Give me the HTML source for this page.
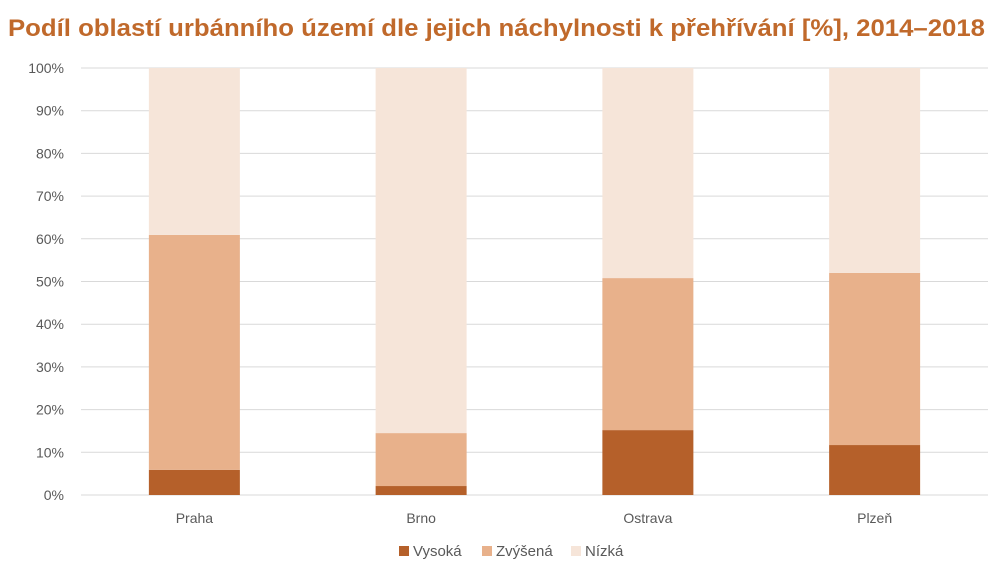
<!DOCTYPE html>
<html><head><meta charset="utf-8"><style>
body{margin:0;background:#fff;}
svg{display:block;font-family:"Liberation Sans",sans-serif;}
</style></head><body>
<svg id="chart" width="1002" height="584">
<text x="8" y="36" font-size="24" font-weight="bold" fill="#c0692b" textLength="977" lengthAdjust="spacingAndGlyphs">Podíl oblastí urbánního území dle jejich náchylnosti k přehřívání [%], 2014–2018</text>
<g id="grid"></g><g id="bars"></g><g id="xlabels"></g>
<g>
<rect x="399" y="546" width="10" height="10" fill="#b5602a"/>
<text x="413" y="556" font-size="15" fill="#595959">Vysoká</text>
<rect x="482" y="546" width="10" height="10" fill="#e8b18b"/>
<text x="496" y="556" font-size="15" fill="#595959">Zvýšená</text>
<rect x="571" y="546" width="10" height="10" fill="#f6e5d9"/>
<text x="585" y="556" font-size="15" fill="#595959">Nízká</text>
</g>
</svg>
<script>
const categories=["Praha","Brno","Ostrava","Plzeň"];
const vysoka=[5.9,2.1,15.2,11.7];
const zvysena=[55.0,12.4,35.6,40.3];
const nizka=[39.1,85.5,49.2,48.0];
const yTicks=[0,10,20,30,40,50,60,70,80,90,100];
const NS="http://www.w3.org/2000/svg";
const L=81,R=988,T=68,B=495;
const y=v=>B-(B-T)*v/100;
const cw=(R-L)/categories.length;
const xc=i=>L+cw*(i+0.5);
const bw=91;
const grid=document.getElementById('grid');
yTicks.forEach(t=>{
 const ln=document.createElementNS(NS,'line');
 ln.setAttribute('x1',L);ln.setAttribute('x2',R);ln.setAttribute('y1',y(t));ln.setAttribute('y2',y(t));
 ln.setAttribute('stroke','#d9d9d9');ln.setAttribute('stroke-width','1');
 
 
 grid.appendChild(ln);
 const tx=document.createElementNS(NS,'text');
 tx.setAttribute('x',64);tx.setAttribute('y',y(t)+5);tx.setAttribute('text-anchor','end');
 tx.setAttribute('font-size','14');tx.setAttribute('fill','#595959');
 tx.textContent=t+'%';
 
 
 grid.appendChild(tx);
});
const series=[[vysoka,'#b5602a','vysoka'],[zvysena,'#e8b18b','zvysena'],[nizka,'#f6e5d9','nizka']];
const bars=document.getElementById('bars'),xl=document.getElementById('xlabels');
categories.forEach((c,i)=>{
 let cum=0;
 series.forEach(([arr,col,nm])=>{
  const v=arr[i];
  const r=document.createElementNS(NS,'rect');
  r.setAttribute('x',xc(i)-bw/2);r.setAttribute('width',bw);
  r.setAttribute('y',y(cum+v));r.setAttribute('height',y(cum)-y(cum+v));
  r.setAttribute('fill',col);
  
  
  bars.appendChild(r);
  cum+=v;
 });
 const tx=document.createElementNS(NS,'text');
 tx.setAttribute('x',xc(i));tx.setAttribute('y',523);tx.setAttribute('text-anchor','middle');
 tx.setAttribute('font-size','14');tx.setAttribute('fill','#595959');
 tx.textContent=c;
 
 
 xl.appendChild(tx);
});
</script>
</body></html>
